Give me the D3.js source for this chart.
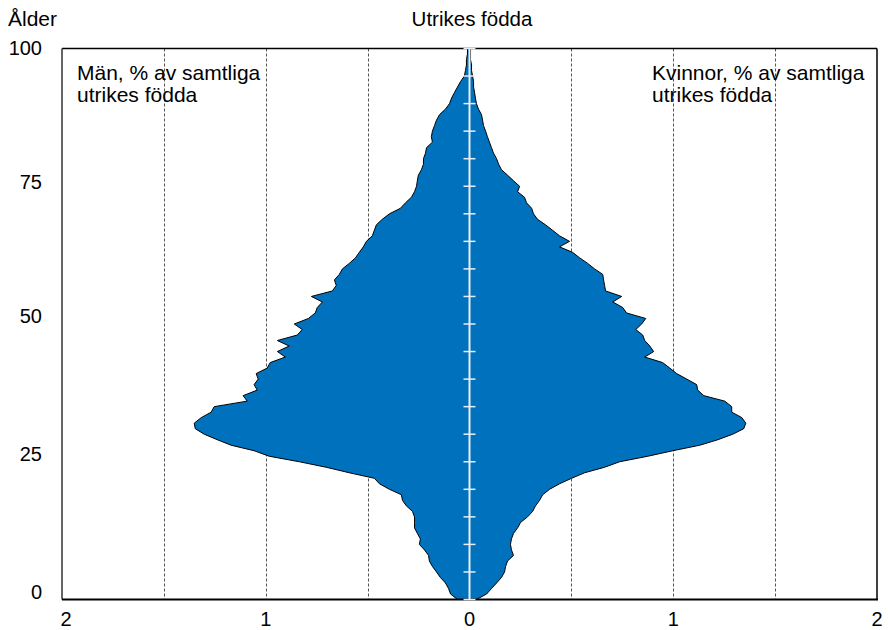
<!DOCTYPE html>
<html>
<head>
<meta charset="utf-8">
<script src="https://cdn.jsdelivr.net/npm/d3@7"></script>
<style>
  html, body { margin: 0; padding: 0; background: #fff; }
  svg text { font-family: "Liberation Sans", Arial, sans-serif; fill: #000; }
</style>
</head>
<body>
<svg id="chart" width="888" height="630"></svg>
<script>
// ---- Data ----
const title = "Utrikes födda";
const yAxisTitle = "Ålder";
const menLabel = ["Män, % av samtliga", "utrikes födda"];
const womenLabel = ["Kvinnor, % av samtliga", "utrikes födda"];
const ages = d3.range(0, 101);
// Men, % of all foreign-born, by age 0..100
const men = [
  0.059, 0.093, 0.103, 0.118, 0.143, 0.162, 0.182, 0.197, 0.201, 0.221,
  0.246, 0.241, 0.256, 0.270, 0.270, 0.270, 0.280, 0.310, 0.329, 0.334,
  0.393, 0.442, 0.467, 0.590, 0.703, 0.835, 0.983, 1.057, 1.170, 1.238,
  1.302, 1.346, 1.351, 1.317, 1.268, 1.253, 1.091, 1.111, 1.042, 1.057,
  1.037, 1.047, 0.993, 0.978, 0.904, 0.943, 0.885, 0.943, 0.845, 0.821,
  0.860, 0.791, 0.757, 0.747, 0.722, 0.776, 0.673, 0.654, 0.663, 0.639,
  0.624, 0.590, 0.560, 0.541, 0.521, 0.506, 0.477, 0.467, 0.457, 0.428,
  0.393, 0.339, 0.314, 0.285, 0.270, 0.260, 0.256, 0.251, 0.236, 0.226,
  0.226, 0.216, 0.211, 0.182, 0.187, 0.182, 0.172, 0.162, 0.147, 0.118,
  0.098, 0.088, 0.074, 0.059, 0.044, 0.025, 0.020, 0.015, 0.015, 0.010,
  0.010
];
// Women, % of all foreign-born, by age 0..100
const women = [
  0.034, 0.084, 0.108, 0.133, 0.157, 0.172, 0.177, 0.187, 0.216, 0.206,
  0.201, 0.206, 0.216, 0.236, 0.251, 0.285, 0.310, 0.324, 0.344, 0.359,
  0.393, 0.442, 0.501, 0.565, 0.663, 0.737, 0.875, 0.998, 1.130, 1.219,
  1.292, 1.346, 1.356, 1.337, 1.287, 1.287, 1.253, 1.150, 1.120, 1.115,
  1.066, 1.017, 0.983, 0.948, 0.860, 0.904, 0.885, 0.860, 0.850, 0.816,
  0.845, 0.865, 0.771, 0.752, 0.703, 0.747, 0.668, 0.663, 0.658, 0.654,
  0.614, 0.580, 0.541, 0.506, 0.442, 0.491, 0.442, 0.408, 0.373, 0.334,
  0.314, 0.305, 0.280, 0.270, 0.236, 0.246, 0.216, 0.187, 0.157, 0.143,
  0.133, 0.118, 0.108, 0.098, 0.088, 0.079, 0.069, 0.064, 0.059, 0.044,
  0.034, 0.029, 0.025, 0.020, 0.020, 0.015, 0.010, 0.010, 0.005, 0.005,
  0.005
];
const xTicks = [-2, -1, 0, 1, 2];
const xTickLabels = ["2", "1", "0", "1", "2"];
const gridValues = [-1.5, -1, -0.5, 0.5, 1, 1.5];
const yTicks = [0, 25, 50, 75, 100];
const centerTicks = d3.range(0, 101, 5);

(function () {
// ---- Layout ----
const svg = d3.select("#chart");
const pLeft = 62, pRight = 877, pTop = 48.5, pBottom = 599.5;
const x = d3.scaleLinear().domain([-2, 2]).range([pLeft, pRight]);
const y = d3.scaleLinear().domain([0, 100]).range([pBottom, pTop]);
const yLab = d3.scaleLinear().domain([0, 50, 100]).range([592, 316, 48]);

// gridlines
svg.append("g").selectAll("line").data(gridValues).join("line")
  .attr("x1", d => Math.round(x(d)) + 0.5).attr("x2", d => Math.round(x(d)) + 0.5)
  .attr("y1", pTop).attr("y2", pBottom)
  .attr("stroke", "#555").attr("stroke-width", 1).attr("stroke-dasharray", "3,2");

// shape
const pts = ages.map((a, i) => [x(-men[i]), y(a)])
  .concat(ages.slice().reverse().map(a => [x(women[a]), y(a)]));
svg.append("path")
  .attr("d", d3.line()(pts) + "Z")
  .attr("fill", "#0071bc")
  .attr("stroke", "#000")
  .attr("stroke-width", 1)
  .attr("stroke-linejoin", "round");

// frame
svg.append("line").attr("x1", pLeft).attr("x2", pRight).attr("y1", pTop).attr("y2", pTop)
  .attr("stroke", "#000").attr("stroke-width", 1.5);
svg.append("line").attr("x1", pLeft).attr("x2", pLeft).attr("y1", pTop).attr("y2", pBottom)
  .attr("stroke", "#333").attr("stroke-width", 1.5);
svg.append("line").attr("x1", pRight).attr("x2", pRight).attr("y1", pTop).attr("y2", pBottom)
  .attr("stroke", "#000").attr("stroke-width", 1.5);
svg.append("line").attr("x1", pLeft).attr("x2", pRight + 1).attr("y1", pBottom).attr("y2", pBottom)
  .attr("stroke", "#000").attr("stroke-width", 2);

// white center line and ticks
svg.append("line").attr("x1", x(0)).attr("x2", x(0)).attr("y1", pTop).attr("y2", pBottom)
  .attr("stroke", "#e8eef4").attr("stroke-width", 2);
svg.append("g").selectAll("line").data(centerTicks).join("line")
  .attr("x1", x(0) - 6).attr("x2", x(0) + 6)
  .attr("y1", d => y(d)).attr("y2", d => y(d))
  .attr("stroke", "#e8eef4").attr("stroke-width", 1.5);

// x tick labels
svg.append("g").selectAll("text").data(xTicks).join("text")
  .attr("x", d => x(d) + (d === -2 ? 4 : 0)).attr("y", 626)
  .attr("text-anchor", "middle").attr("font-size", 20)
  .text((d, i) => xTickLabels[i]);

// y tick labels
svg.append("g").selectAll("text").data(yTicks).join("text")
  .attr("x", 42).attr("y", d => yLab(d)).attr("dy", "0.35em")
  .attr("text-anchor", "end").attr("font-size", 20)
  .text(d => d);

// titles
svg.append("text").attr("x", 472).attr("y", 26).attr("text-anchor", "middle")
  .attr("font-size", 20.5).text(title);
svg.append("text").attr("x", 8).attr("y", 26).attr("font-size", 21).text(yAxisTitle);

const ml = svg.append("text").attr("x", 77).attr("y", 80).attr("font-size", 21);
menLabel.forEach((t, i) => ml.append("tspan").attr("x", 77).attr("dy", i ? 22 : 0).text(t));
const wl = svg.append("text").attr("x", 652).attr("y", 80).attr("font-size", 21);
womenLabel.forEach((t, i) => wl.append("tspan").attr("x", 652).attr("dy", i ? 22 : 0).text(t));
})();
</script>
</body>
</html>
